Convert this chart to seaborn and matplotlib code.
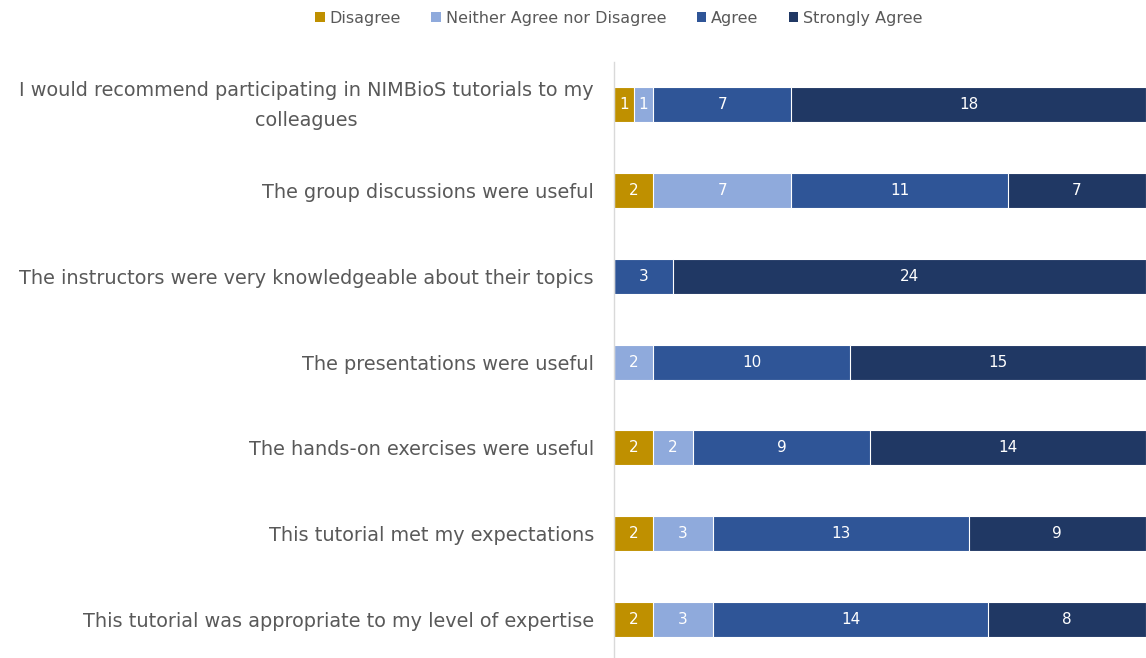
import matplotlib
matplotlib.use("Agg")
import matplotlib.pyplot as plt
import matplotlib.transforms as mtransforms
import seaborn as sns
import pandas as pd
import numpy as np
from matplotlib.patches import Patch

questions = [
    "I would recommend participating in NIMBioS tutorials to my\ncolleagues",
    "The group discussions were useful",
    "The instructors were very knowledgeable about their topics",
    "The presentations were useful",
    "The hands-on exercises were useful",
    "This tutorial met my expectations",
    "This tutorial was appropriate to my level of expertise",
]
series_names = ["Disagree", "Neither Agree nor Disagree", "Agree", "Strongly Agree"]
disagree = [1, 2, 0, 0, 2, 2, 2]
neither = [1, 7, 0, 2, 2, 3, 3]
agree = [7, 11, 3, 10, 9, 13, 14]
strongly = [18, 7, 24, 15, 14, 9, 8]
colors = ["#BF9000", "#8FAADC", "#2F5597", "#203864"]

sns.set_theme(style="white")
plt.rcParams['font.family'] = ['DejaVu Sans']

fig = plt.figure(figsize=(11.46, 6.58), dpi=100)
ax = fig.add_axes([614/1146, 0.0, 1 - 614/1146, 1 - 62/658])

vals = np.array([disagree, neither, agree, strongly], dtype=float)
cum = np.cumsum(vals, axis=0)

# draw cumulative bars from largest to smallest (stacked appearance)
for i in range(3, -1, -1):
    df = pd.DataFrame({"q": questions, "v": cum[i]})
    sns.barplot(data=df, x="v", y="q", orient="h", color=colors[i],
                saturation=1, width=0.41, edgecolor="white", linewidth=0.8, ax=ax)

for i in range(4):
    for j in range(len(questions)):
        v = vals[i, j]
        if v > 0:
            center = cum[i, j] - v / 2
            ax.text(center, j, f"{int(v)}", color="white", ha="center", va="center", fontsize=11)

ax.set_xlim(0, 27)
ax.set_ylim(6.45, -0.5)
ax.set_xlabel("")
ax.set_ylabel("")
ax.set_xticks([])
ax.tick_params(axis="y", length=0, pad=14.4, labelsize=13.9, labelcolor="#595959")
for lbl in ax.get_yticklabels():
    lbl.set_multialignment("center")
    lbl.set_linespacing(1.75)
    if "\n" in lbl.get_text():
        lbl.set_transform(lbl.get_transform() +
                          mtransforms.ScaledTranslation(0, 7/100, fig.dpi_scale_trans))
for s in ["top", "right", "bottom"]:
    ax.spines[s].set_visible(False)
ax.spines["left"].set_color("#D9D9D9")
ax.spines["left"].set_linewidth(1.0)

handles = [Patch(facecolor=c, edgecolor="none") for c in colors]
fig.legend(handles, series_names, loc="center", bbox_to_anchor=(619/1146, 1 - 18/658),
           ncol=4, frameon=False, fontsize=11.5, handlelength=0.6, handleheight=0.6,
           handletextpad=0.3, columnspacing=1.9, labelcolor="#595959")

fig.savefig("out.png", dpi=100)
